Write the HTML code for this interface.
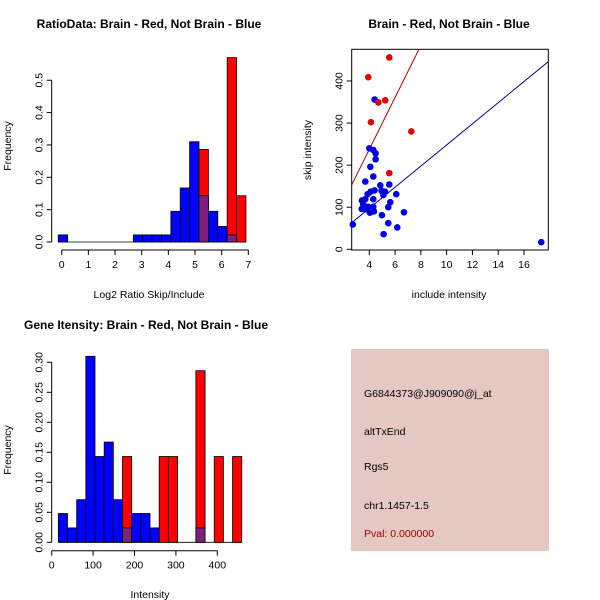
<!DOCTYPE html>
<html><head><meta charset="utf-8"><style>
body{margin:0;background:#fff}
svg{display:block;font-family:"Liberation Sans",sans-serif}
</style></head><body>
<svg id="c" width="600" height="600" viewBox="0 0 600 600">
<rect x="0" y="0" width="600" height="600" fill="#fff"/>
<text x="149" y="28" font-size="12" font-weight="bold" text-anchor="middle">RatioData: Brain - Red, Not Brain - Blue</text>
<text x="449" y="28" font-size="12" font-weight="bold" text-anchor="middle">Brain - Red, Not Brain - Blue</text>
<text x="146" y="329" font-size="12" font-weight="bold" text-anchor="middle">Gene Itensity: Brain - Red, Not Brain - Blue</text>
<text x="149" y="298" font-size="10.5" text-anchor="middle">Log2 Ratio Skip/Include</text>
<text x="11" y="146" font-size="10.5" text-anchor="middle" transform="rotate(-90 11 146)">Frequency</text>
<text x="449" y="298" font-size="10.5" text-anchor="middle">include intensity</text>
<text x="311" y="150" font-size="10.5" text-anchor="middle" transform="rotate(-90 311 150)">skip intensity</text>
<text x="150" y="598" font-size="10.5" text-anchor="middle">Intensity</text>
<text x="11" y="450" font-size="10.5" text-anchor="middle" transform="rotate(-90 11 450)">Frequency</text>
<g>
<rect x="351" y="349" width="198" height="202" fill="#e6c8c2"/>
<text x="364" y="397" font-size="10.5">G6844373@J909090@j_at</text>
<text x="364" y="435" font-size="10.5">altTxEnd</text>
<text x="364" y="470" font-size="10.5">Rgs5</text>
<text x="364" y="509" font-size="10.5">chr1.1457-1.5</text>
<text x="364" y="537" font-size="10.5" fill="#a00000">Pval: 0.000000</text>
</g>
</svg>
<script>
// Ratio histogram data
const ratioBlue = [0.022,0,0,0,0,0,0,0,0.022,0.022,0.022,0.022,0.095,0.167,0.31,0.143,0.095,0.048,0.022,0];
const ratioRed  = [0,0,0,0,0,0,0,0,0,0,0,0,0,0,0,0.286,0,0,0.57,0.143];
const ratioBinStart = -0.13, ratioBinWidth = 0.352;
const ratioXTicks = [0,1,2,3,4,5,6,7];
const ratioYTicks = ["0.0","0.1","0.2","0.3","0.4","0.5"];
// Scatter data
const redX = [5.55,3.92,4.7,5.24,4.13,7.26,5.55];
const redY = [456,409,349,354,302,280,181];
const blueX = [4.41,4,4.31,4.49,4.49,4.08,4.31,3.69,4.85,5.55,4.95,5.22,4.41,4.1,3.87,5.09,6.09,3.43,3.69,4.31,5.63,3.53,3.92,3.61,4.31,5.47,3.41,3.74,4.05,4.36,6.69,4.98,2.72,5.47,6.17,5.11,17.34];
const blueY = [356,240,236,228,214,196,173,161,152,154,139,137,140,137,131,129,131,116,119,119,112,107,101,99,101,100,96,95,87,90,88,81,59,62,52,36,17];
const lineSlope = [61.7,25.1];
const lineIntercept = [-9.3,-3];
const scatterXTicks = [4,6,8,10,12,14,16];
const scatterYTicks = [0,100,200,300,400];
// Intensity histogram data
const intBlue = [0.048,0.024,0.071,0.31,0.143,0.167,0.071,0.024,0.048,0.048,0.024,0,0,0,0,0.024,0,0,0,0];
const intRed  = [0,0,0,0,0,0,0,0.143,0,0,0,0.143,0.143,0,0,0.286,0,0.143,0,0.143];
const intBinStart = 16, intBinWidth = 22.15;
const intXTicks = [0,100,200,300,400];
const intYTicks = ["0.00","0.05","0.10","0.15","0.20","0.25","0.30"];

const svg = document.getElementById('c');
const NS = 'http://www.w3.org/2000/svg';
function mk(tag, at, parent){const e=document.createElementNS(NS,tag);for(const k in at)e.setAttribute(k,at[k]);(parent||svg).appendChild(e);return e;}

function hist(blue, red, binStart, binW, sx, sy, name){
  const g = mk('g',{});
  
  
  const base=mk('line',{x1:sx(binStart),x2:sx(binStart+blue.length*binW),y1:sy(0),y2:sy(0),stroke:'#000','stroke-width':0.8},g);
  
  
  for(let i=0;i<blue.length;i++){
    const x0=sx(binStart+i*binW), x1=sx(binStart+(i+1)*binW);
    const b=blue[i], r=red[i];
    const draw=(v,col,nm)=>{ if(v<=0) return;
      const e=mk('rect',{x:x0,y:sy(v),width:x1-x0,height:sy(0)-sy(v),fill:col,stroke:'#000','stroke-width':0.8},g);
      
      
    };
    if(r>=b){ draw(r,'#ff0000',name+'-red-bar'); draw(b, r>0?'#7f1f7f':'#0000ff', name+'-blue-bar'); }
    else { draw(b,'#0000ff',name+'-blue-bar'); draw(r,'#7f1f7f',name+'-red-bar'); }
  }
}
function axisX(ticks, labels, sx, y, name){
  const l=mk('line',{x1:sx(ticks[0]),x2:sx(ticks[ticks.length-1]),y1:y,y2:y,stroke:'#000'});
  
  
  ticks.forEach((t,i)=>{
    mk('line',{x1:sx(t),x2:sx(t),y1:y,y2:y+5,stroke:'#000'});
    const tx=mk('text',{x:sx(t),y:y+18,'font-size':10.5,'text-anchor':'middle'});
    tx.textContent=labels[i];
    
    
  });
}
function axisY(vals, labels, sy, x, name){
  const l=mk('line',{x1:x,x2:x,y1:sy(vals[0]),y2:sy(vals[vals.length-1]),stroke:'#000'});
  
  
  vals.forEach((v,i)=>{
    mk('line',{x1:x-5,x2:x,y1:sy(v),y2:sy(v),stroke:'#000'});
    const tx=mk('text',{x:x-9,y:sy(v),'font-size':10.5,'text-anchor':'middle',transform:`rotate(-90 ${x-9} ${sy(v)})`});
    tx.textContent=labels[i];
    
    
  });
}
// Panel 1
{
  const sx=v=>61.7+v*26.66, sy=v=>242-v*323.5;
  hist(ratioBlue, ratioRed, ratioBinStart, ratioBinWidth, sx, sy, 'ratio');
  axisX(ratioXTicks, ratioXTicks.map(String), sx, 250, 'ratio');
  axisY(ratioYTicks.map(Number), ratioYTicks, sy, 51.7, 'ratio');
}
// Panel 2
{
  const sx=v=>369.3+(v-4)*12.89, sy=v=>249.3-v*0.4208;
  const L=351.7,R=548.3,T=49.3,B=250;
  const box=mk('rect',{x:L,y:T,width:R-L,height:B-T,fill:'none',stroke:'#000'});
  
  
  mk('clipPath',{id:'cp'}); const cp=svg.lastChild; mk('rect',{x:L,y:T,width:R-L,height:B-T},cp);
  const xmin=(L-369.3)/12.89+4, xmax=(R-369.3)/12.89+4;
  ['#b00000','#00008b'].forEach((col,i)=>{
    const ln=mk('line',{x1:sx(xmin),y1:sy(lineIntercept[i]+lineSlope[i]*xmin),x2:sx(xmax),y2:sy(lineIntercept[i]+lineSlope[i]*xmax),stroke:col,'clip-path':'url(#cp)'});
    
    
  });
  blueX.forEach((x,i)=>{const c=mk('circle',{cx:sx(x),cy:sy(blueY[i]),r:3.3,fill:'#0000e0'});
    
    });
  redX.forEach((x,i)=>{const c=mk('circle',{cx:sx(x),cy:sy(redY[i]),r:3.3,fill:'#e00000'});
    
    });
  scatterXTicks.forEach(t=>{mk('line',{x1:sx(t),x2:sx(t),y1:B,y2:B+5,stroke:'#000'});
    const tx=mk('text',{x:sx(t),y:B+18,'font-size':10.5,'text-anchor':'middle'});tx.textContent=t;
    
    });
  scatterYTicks.forEach(t=>{mk('line',{x1:L-5,x2:L,y1:sy(t),y2:sy(t),stroke:'#000'});
    const tx=mk('text',{x:L-9,y:sy(t),'font-size':10.5,'text-anchor':'middle',transform:`rotate(-90 ${L-9} ${sy(t)})`});tx.textContent=t;
    
    });
}
// Panel 3
{
  const sx=v=>51.7+v*0.414, sy=v=>542.3-v*600;
  hist(intBlue, intRed, intBinStart, intBinWidth, sx, sy, 'intensity');
  axisX(intXTicks, intXTicks.map(String), sx, 550.7, 'intensity');
  axisY(intYTicks.map(Number), intYTicks, sy, 51.7, 'intensity');
}
</script>
</body></html>
